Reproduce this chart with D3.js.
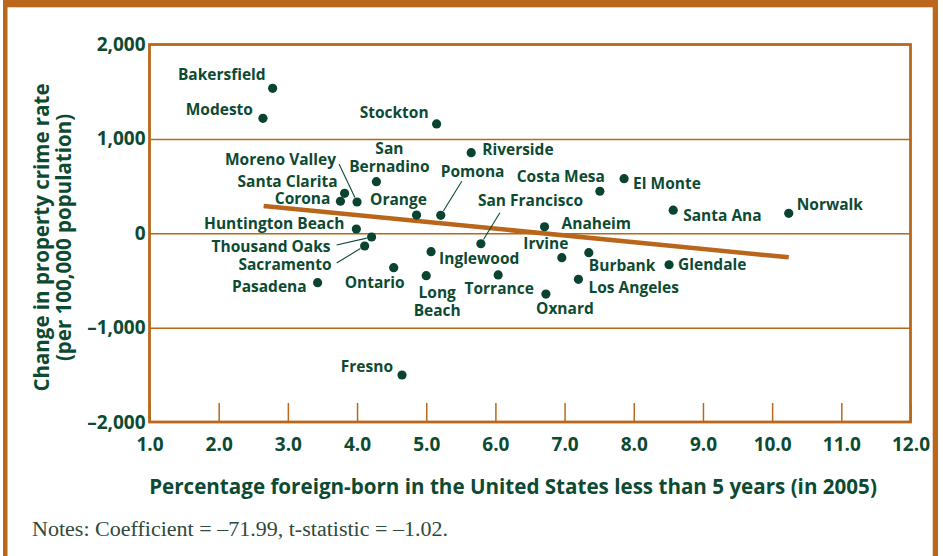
<!DOCTYPE html>
<html>
<head>
<meta charset="utf-8">
<script src="https://cdn.jsdelivr.net/npm/d3@7"></script>
<style>
  body { margin: 0; background: #fff; }
  svg text { font-family: "Open Sans", "Noto Sans", sans-serif; font-weight: 700; fill: #0d4a32; }
</style>
</head>
<body>
<div id="vis"></div>
<script>
// city data
var cities = ["Bakersfield", "Modesto", "Stockton", "San Bernadino", "Santa Clarita", "Corona",
  "Moreno Valley", "Orange", "Pomona", "Huntington Beach", "Thousand Oaks", "Sacramento",
  "Pasadena", "Ontario", "Inglewood", "Long Beach", "Fresno", "Riverside", "San Francisco",
  "Costa Mesa", "El Monte", "Anaheim", "Santa Ana", "Irvine", "Burbank", "Torrance",
  "Los Angeles", "Oxnard", "Glendale", "Norwalk"];
var pctForeign = [2.78, 2.64, 5.15, 4.28, 3.82, 3.76, 4.00, 4.86, 5.21, 3.99, 4.21, 4.11,
  3.43, 4.53, 5.07, 5.00, 4.65, 5.65, 5.79, 7.51, 7.86, 6.71, 8.57, 6.96, 7.35, 6.04,
  7.20, 6.73, 8.51, 10.24];
var crimeChange = [1536, 1218, 1158, 546, 423, 339, 331, 193, 190, 45, -40, -135,
  -524, -365, -195, -450, -1502, 854, -111, 445, 578, 69, 244, -259, -206, -442,
  -488, -644, -334, 211];

// fitted line end points
var trendX = [2.65, 10.24];
var trendY = [289, -255];

var xTicks = [1, 2, 3, 4, 5, 6, 7, 8, 9, 10, 11, 12];
var xTickLabels = ["1.0", "2.0", "3.0", "4.0", "5.0", "6.0", "7.0", "8.0", "9.0", "10.0", "11.0", "12.0"];
var yTicks = [2000, 1000, 0, -1000, -2000];
var yTickLabels = ["2,000", "1,000", "0", "\u20131,000", "\u20132,000"];
var gridValues = [1000, 0, -1000];

// label placement relative to each dot: [dx, dy, anchor, lines, leader start dx, dy]
var labelPos = {
  "Bakersfield": [-7, -8, "end", ["Bakersfield"]],
  "Modesto": [-10, -3, "end", ["Modesto"]],
  "Stockton": [-8, -6, "end", ["Stockton"]],
  "San Bernadino": [13, -28, "middle", ["San", "Bernadino"]],
  "Santa Clarita": [-7, -6, "end", ["Santa Clarita"]],
  "Corona": [-10, 3, "end", ["Corona"]],
  "Moreno Valley": [-21, -37, "end", ["Moreno Valley"], [-18, -38]],
  "Orange": [-18, -10, "middle", ["Orange"]],
  "Pomona": [0, -38, "start", ["Pomona"], [21, -34]],
  "Huntington Beach": [-12, 0, "end", ["Huntington Beach"]],
  "Thousand Oaks": [-41, 15, "end", ["Thousand Oaks"], [-35, 8]],
  "Sacramento": [-33, 24, "end", ["Sacramento"], [-28, 17]],
  "Pasadena": [-11, 9, "end", ["Pasadena"]],
  "Ontario": [-19, 20, "middle", ["Ontario"]],
  "Inglewood": [8, 12, "start", ["Inglewood"]],
  "Long Beach": [11, 22, "middle", ["Long", "Beach"]],
  "Fresno": [-9, -3, "end", ["Fresno"]],
  "Riverside": [11, 2, "start", ["Riverside"]],
  "San Francisco": [-3, -38, "start", ["San Francisco"], [19, -31]],
  "Costa Mesa": [5, -9, "end", ["Costa Mesa"]],
  "El Monte": [9, 10, "start", ["El Monte"]],
  "Anaheim": [17, 2, "start", ["Anaheim"]],
  "Santa Ana": [10, 11, "start", ["Santa Ana"]],
  "Irvine": [-16, -9, "middle", ["Irvine"]],
  "Burbank": [0, 18, "start", ["Burbank"]],
  "Torrance": [1, 19, "middle", ["Torrance"]],
  "Los Angeles": [10, 14, "start", ["Los Angeles"]],
  "Oxnard": [19, 20, "middle", ["Oxnard"]],
  "Glendale": [9, 5, "start", ["Glendale"]],
  "Norwalk": [8, -3, "start", ["Norwalk"]]
};

var orange = "#ba671b";
var green = "#0d4a32";

var svg = d3.select("#vis").append("svg")
  .attr("width", 943)
  .attr("height", 556);

// outer frame
svg.append("rect").attr("x", 3).attr("y", 0).attr("width", 4.5).attr("height", 556).attr("fill", orange);
svg.append("rect").attr("x", 3).attr("y", 0).attr("width", 935).attr("height", 7.3).attr("fill", orange);
svg.append("rect").attr("x", 932.7).attr("y", 0).attr("width", 5.3).attr("height", 556).attr("fill", orange);

var xScale = d3.scaleLinear().domain([1, 12]).range([149.5, 910.5]);
var yScale = d3.scaleLinear().domain([-2000, 2000]).range([422, 44.5]);

// gridlines
svg.append("g")
  .attr("transform", "translate(" + xScale(1) + ",0)")
  .call(d3.axisLeft(yScale).tickValues(gridValues).tickSize(-(xScale(12) - xScale(1))).tickFormat(""))
  .call(function(g) {
    g.select(".domain").remove();
    g.selectAll(".tick line").attr("stroke", orange).attr("stroke-width", 1.5);
  });

// y axis labels
svg.append("g")
  .attr("transform", "translate(" + xScale(1) + ",0)")
  .call(d3.axisLeft(yScale).tickValues(yTicks).tickSize(0).tickPadding(4)
    .tickFormat(function(d, i) { return yTickLabels[i]; }))
  .call(function(g) {
    g.select(".domain").remove();
    g.selectAll("text").attr("font-size", 19).attr("fill", green)
      .attr("font-family", null);
  });

// x axis with inner ticks
svg.append("g")
  .attr("transform", "translate(0," + yScale(-2000) + ")")
  .call(d3.axisBottom(xScale).tickValues(xTicks).tickSize(-19).tickPadding(16)
    .tickFormat(function(d, i) { return xTickLabels[i]; }))
  .call(function(g) {
    g.select(".domain").remove();
    g.selectAll(".tick line").attr("stroke", orange).attr("stroke-width", 1.5);
    g.selectAll("text").attr("font-size", 19).attr("fill", green)
      .attr("font-family", null);
  });

// plot box
svg.append("rect")
  .attr("x", xScale(1)).attr("y", yScale(2000))
  .attr("width", xScale(12) - xScale(1))
  .attr("height", yScale(-2000) - yScale(2000))
  .attr("fill", "none").attr("stroke", orange).attr("stroke-width", 2.8);

// trend line
var line = d3.line()
  .x(function(d) { return xScale(d[0]); })
  .y(function(d) { return yScale(d[1]); });

svg.append("path")
  .datum(d3.zip(trendX, trendY))
  .attr("d", line)
  .attr("fill", "none")
  .attr("stroke", "#b9651a")
  .attr("stroke-width", 4.5);

// leader lines
cities.forEach(function(c, i) {
  var lp = labelPos[c];
  if (!lp[4]) return;
  var cx = xScale(pctForeign[i]), cy = yScale(crimeChange[i]);
  var sx = cx + lp[4][0], sy = cy + lp[4][1];
  var len = Math.sqrt(lp[4][0] * lp[4][0] + lp[4][1] * lp[4][1]);
  var ex = cx + lp[4][0] / len * 5, ey = cy + lp[4][1] / len * 5;
  svg.append("line")
    .attr("x1", sx).attr("y1", sy).attr("x2", ex).attr("y2", ey)
    .attr("stroke", green).attr("stroke-width", 1.1);
});

// dots
svg.append("g").selectAll("circle")
  .data(cities)
  .enter().append("circle")
  .attr("cx", function(d, i) { return xScale(pctForeign[i]); })
  .attr("cy", function(d, i) { return yScale(crimeChange[i]); })
  .attr("r", 4.6)
  .attr("fill", "#0a4430");

// city labels
var labels = svg.append("g").selectAll("text")
  .data(cities)
  .enter().append("text")
  .attr("font-size", 15.5)
  .attr("text-anchor", function(d) { return labelPos[d][2]; })
  .attr("x", function(d, i) { return xScale(pctForeign[i]) + labelPos[d][0]; })
  .attr("y", function(d, i) { return yScale(crimeChange[i]) + labelPos[d][1]; });

labels.each(function(d) {
  var t = d3.select(this);
  var x = t.attr("x");
  labelPos[d][3].forEach(function(s, k) {
    t.append("tspan").attr("x", x).attr("dy", k === 0 ? 0 : 18.5).text(s);
  });
});

// axis titles
svg.append("text")
  .attr("x", 513).attr("y", 493.5)
  .attr("text-anchor", "middle")
  .attr("font-size", 20.6)
  .text("Percentage foreign-born in the United States less than 5 years (in 2005)");

svg.append("g")
  .attr("transform", "translate(48.5,237.5) rotate(-90)")
  .call(function(g) {
    g.append("text").attr("text-anchor", "middle").attr("font-size", 20.5)
      .text("Change in property crime rate");
    g.append("text").attr("text-anchor", "middle").attr("font-size", 20.5).attr("y", 22.4)
      .text("(per 100,000 population)");
  });

// notes
svg.append("text")
  .attr("x", 32).attr("y", 535.5)
  .attr("font-size", 20.5)
  .attr("textLength", 416)
  .attr("lengthAdjust", "spacingAndGlyphs")
  .style("font-family", "'Liberation Serif', serif")
  .style("font-weight", 400)
  .style("fill", "#2e4a3c")
  .text("Notes: Coefficient = \u201371.99, t-statistic = \u20131.02.");
</script>
</body>
</html>
